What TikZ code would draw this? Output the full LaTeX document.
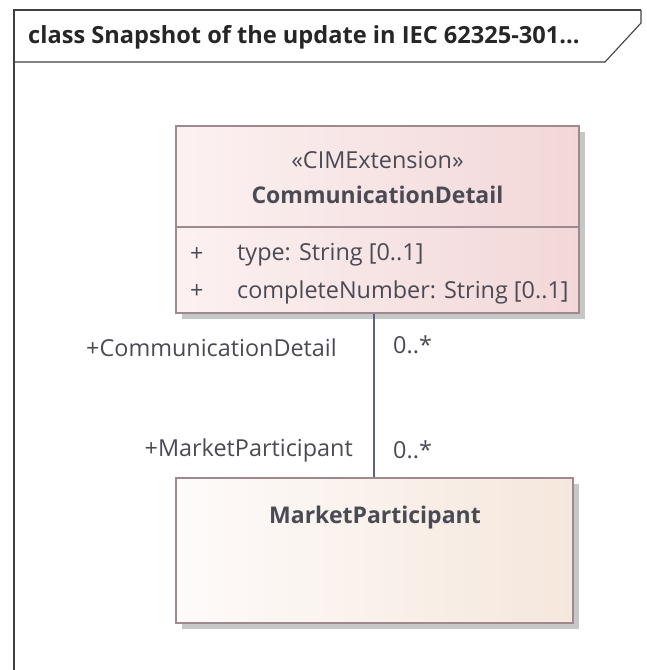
\documentclass[tikz,border=0pt]{standalone}
\usepackage{fontspec}
\setmainfont{Open Sans}
\usetikzlibrary{shadows}
\definecolor{txt}{HTML}{4A4A55}
\definecolor{bord}{HTML}{9E8A8E}
\definecolor{conn}{HTML}{5A6382}
\definecolor{pinkL}{HTML}{FCF1F1}
\definecolor{pinkR}{HTML}{F2D7D8}
\definecolor{creamL}{HTML}{FEFBFA}
\definecolor{creamR}{HTML}{F5E7DC}
\tikzset{
  classbox/.style={draw=bord, line width=1.6pt, shading=axis, shading angle=90, inner sep=0pt,
    drop shadow={shadow xshift=6pt, shadow yshift=-6pt, fill=black!22, opacity=1}},
  lbl/.style={text=txt, font=\fontsize{23.4}{28}\selectfont, inner sep=0pt},
  bold/.style={text=txt, font=\fontsize{23}{28}\selectfont\bfseries, inner sep=0pt},
}
\begin{document}
\begin{tikzpicture}[x=1pt,y=-1pt]
\useasboundingbox (0,0) rectangle (646,670);
% frame
\draw[line width=1.1pt, draw=black!75] (14,672) -- (14,10) -- (641,10);
\draw[line width=1.1pt, draw=black!75] (641,10) -- (641,23) -- (605,62) -- (14,62);
\node[anchor=west, text=black!85, font=\fontsize{23.6}{28}\selectfont\bfseries, inner sep=0pt] (title) at (28,37) {class Snapshot of the update in IEC 62325-301...};
% CommunicationDetail
\node[classbox, left color=pinkL, right color=pinkR, minimum width=403pt, minimum height=187pt] (cd) at (377.5,219.5) {};
\draw[draw=bord, line width=1.6pt] (cd.west |- 0,227) coordinate (dl) -- (cd.east |- 0,227) coordinate (dr);
\node[lbl] (st) at (377.5,160) {«CIMExtension»};
\node[bold] (cdn) at (377.5,195) {CommunicationDetail};
\node[lbl, anchor=west] (p1) at (190,255) {+};
\node[lbl, anchor=west] (p2) at (190,292) {+};
\node[lbl, anchor=west] (a1) at (237,255) {type: String [0..1]};
\node[lbl, anchor=west] (a2) at (237,292) {completeNumber: String [0..1]};
% MarketParticipant
\node[classbox, left color=creamL, right color=creamR, minimum width=397pt, minimum height=145pt] (mp) at (374.5,550.5) {};
\node[bold] (mpn) at (375,518) {MarketParticipant};
% association
\draw[draw=conn, line width=1.4pt] (cd.south -| 374,0) -- (mp.north -| 374,0);
\node[lbl, anchor=east] (r1) at (337,348) {+CommunicationDetail};
\node[lbl, anchor=west] (m1) at (393,345) {0..*};
\node[lbl, anchor=east] (r2) at (353,450) {+MarketParticipant};
\node[lbl, anchor=west] (m2) at (393,450) {0..*};
\end{tikzpicture}
\end{document}
